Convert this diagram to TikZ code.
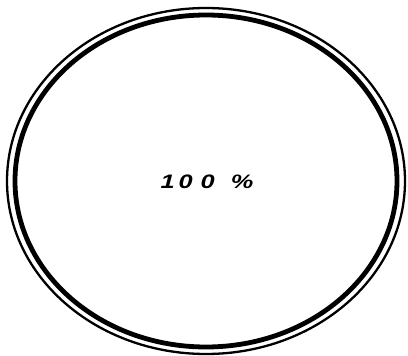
\documentclass[tikz,border=0pt]{standalone}
\usepackage{fontspec}
\usepackage{graphicx}
\setmainfont{Liberation Sans}
\begin{document}
\begin{tikzpicture}[x=1pt,y=-1pt,
  outerring/.style={draw=black,line width=2.3pt},
  innerring/.style={draw=black,line width=4.8pt},
  pct/.style={font=\fontsize{19.5}{19.5}\selectfont\bfseries\itshape,inner sep=0pt}]
\useasboundingbox (0,0) rectangle (408,356);
\coordinate (c) at (206,181);
\draw[outerring] (c) ellipse [x radius=199, y radius=173];
\draw[innerring] (c) ellipse [x radius=191, y radius=166];
\node[pct] (label) at (207,182) {\scalebox{1.3}[1]{1\kern3pt0\kern6pt0 \kern7pt\%}};
\end{tikzpicture}
\end{document}
